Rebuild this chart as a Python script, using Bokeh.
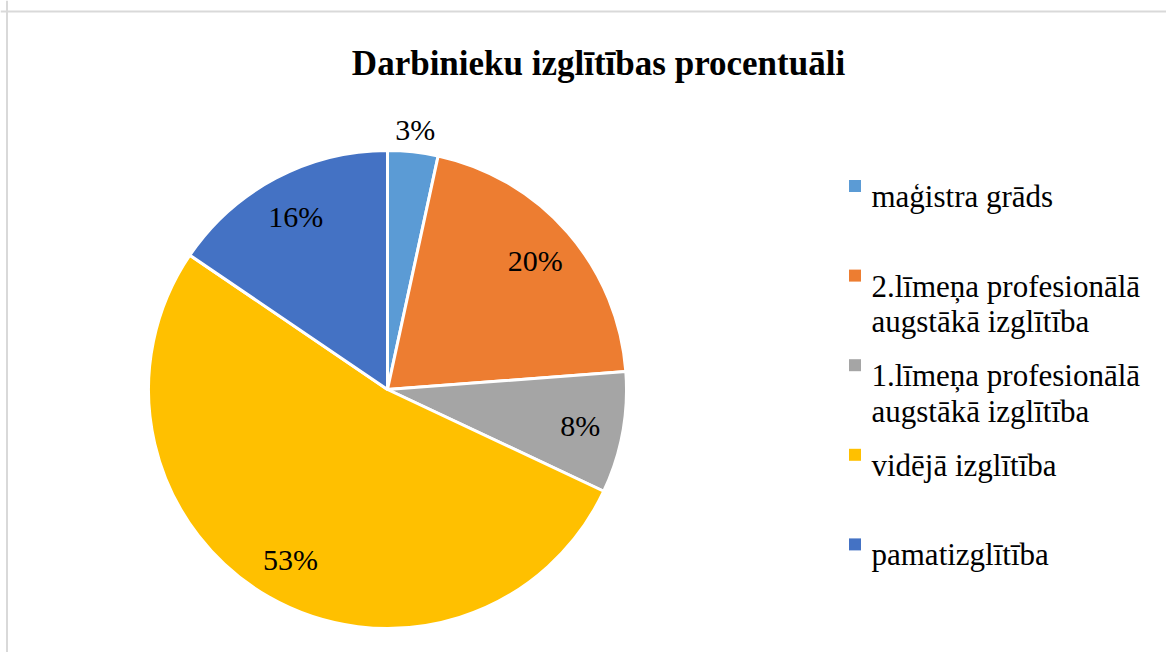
import math
from bokeh.plotting import figure
from bokeh.models import Range1d, Span, ColumnDataSource
from bokeh.core.properties import value
from bokeh.embed import file_html
from bokeh.resources import INLINE

# ---- data ----
title_text = "Darbinieku izglītības procentuāli"
categories = [
    "maģistra grāds",
    "2.līmeņa profesionālā\naugstākā izglītība",
    "1.līmeņa profesionālā\naugstākā izglītība",
    "vidējā izglītība",
    "pamatizglītība",
]
shares = [3.4, 20.4, 8.2, 52.5, 15.5]
pct_labels = ["3%", "20%", "8%", "53%", "16%"]
colors = ["#5B9BD5", "#ED7D31", "#A5A5A5", "#FFC000", "#4472C4"]

# ---- layout (page pixel coordinates, y measured from top) ----
W, H = 1166, 652
def Y(py):
    return H - py

cx, cy_px, R = 387, 389, 239
serif = "Liberation Serif"

p = figure(width=W, height=H, output_backend="svg", toolbar_location=None,
           x_range=Range1d(0, W), y_range=Range1d(0, H),
           min_border=0, outline_line_color=None)
p.axis.visible = False
p.grid.visible = False
p.background_fill_color = "white"
p.border_fill_color = "white"

# frame lines of the embedded chart
p.add_layout(Span(location=Y(11), dimension="width", line_color="#D9D9D9", line_width=2))
p.add_layout(Span(location=6.5, dimension="height", line_color="#D9D9D9", line_width=2))

# ---- pie ----
total = sum(shares)
starts, ends, mids = [], [], []
acc = 0.0
for s in shares:
    a0 = math.pi / 2 - 2 * math.pi * acc / total
    acc += s
    a1 = math.pi / 2 - 2 * math.pi * acc / total
    starts.append(a0)
    ends.append(a1)
    mids.append((a0 + a1) / 2)

src = ColumnDataSource(dict(x=[cx] * len(shares), y=[Y(cy_px)] * len(shares),
                            start=starts, end=ends, color=colors))
p.wedge(x="x", y="y", radius=R, radius_units="screen", start_angle="start",
        end_angle="end", direction="clock", fill_color="color",
        line_color="white", line_width=3, source=src)

# data labels
lx, ly = [], []
for s, m in zip(shares, mids):
    r = R + 22 if s / total < 0.05 else 0.82 * R
    lx.append(cx + r * math.cos(m))
    ly.append(Y(cy_px) + r * math.sin(m))
p.text(x=lx, y=ly, text=pct_labels, text_font=value(serif), text_font_size="30px",
       text_align="center", text_baseline="middle", text_color="black")

# title
p.text(x=[598], y=[Y(63)], text=[title_text], text_font=value(serif),
       text_font_size="35px", text_font_style="bold", text_align="center",
       text_baseline="alphabetic", text_color="black")

# legend
leg_x_marker, leg_x_text = 854.5, 871
leg_y0, leg_dy, line_h = 185.5, 89.6, 35.7
mk_x, mk_y, tx, ty, tt = [], [], [], [], []
for i, (c, col) in enumerate(zip(categories, colors)):
    yc = leg_y0 + i * leg_dy
    mk_x.append(leg_x_marker)
    mk_y.append(Y(yc))
    for j, line in enumerate(c.split("\n")):
        tx.append(leg_x_text)
        ty.append(Y(yc + 10.5 + j * line_h))
        tt.append(line)
p.scatter(x=mk_x, y=mk_y, marker="square", size=12, fill_color=colors, line_color=None)
p.text(x=tx, y=ty, text=tt, text_font=value(serif), text_font_size="31px",
       text_align="left", text_baseline="alphabetic", text_color="black")

open("out.html", "w").write(file_html(p, INLINE))
